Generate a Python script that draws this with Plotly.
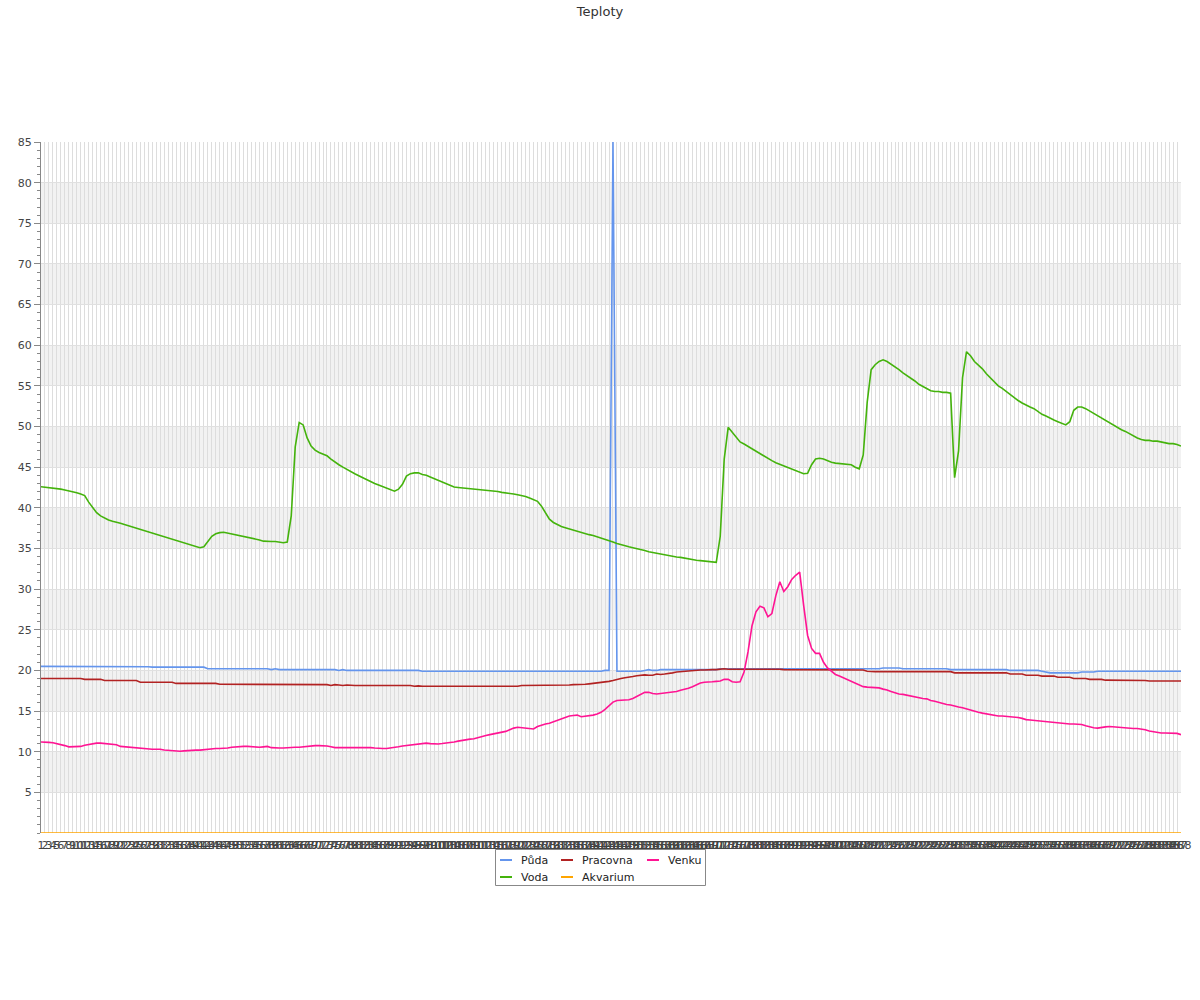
import plotly.graph_objects as go

labels = [str(i) for i in range(1, 289)]

puda = [
20.5,20.5,20.5,20.5,20.5,20.5,20.5,20.5,20.5,20.5,20.5,20.5,
20.5,20.5,20.5,20.5,20.5,20.5,20.5,20.5,20.5,20.5,20.5,20.5,
20.5,20.5,20.5,20.45,20.4,20.4,20.4,20.4,20.4,20.4,20.4,20.4,
20.4,20.4,20.4,20.4,20.4,20.4,20.2,20.2,20.2,20.2,20.2,20.2,
20.2,20.2,20.2,20.2,20.2,20.2,20.2,20.2,20.2,20.2,20.1,20.2,
20.1,20.1,20.1,20.1,20.1,20.1,20.1,20.1,20.1,20.1,20.1,20.1,
20.1,20.1,20.1,20.0,20.1,20.0,20.0,20.0,20.0,20.0,20.0,20.0,
20.0,20.0,20.0,20.0,20.0,20.0,20.0,20.0,20.0,20.0,20.0,20.0,
19.9,19.9,19.9,19.9,19.9,19.9,19.9,19.9,19.9,19.9,19.9,19.9,
19.9,19.9,19.9,19.9,19.9,19.9,19.9,19.9,19.9,19.9,19.9,19.9,
19.9,19.9,19.9,19.9,19.9,19.9,19.9,19.9,19.9,19.9,19.9,19.9,
19.9,19.9,19.9,19.9,19.9,19.9,19.9,19.9,19.9,19.9,20.0,20.0,
85.0,19.9,19.9,19.9,19.9,19.9,19.9,19.9,20.0,20.1,20.0,20.0,
20.1,20.1,20.1,20.1,20.1,20.1,20.1,20.1,20.1,20.1,20.1,20.1,
20.1,20.1,20.1,20.2,20.2,20.2,20.2,20.2,20.2,20.2,20.2,20.2,
20.2,20.2,20.2,20.2,20.2,20.2,20.2,20.2,20.2,20.2,20.2,20.2,
20.2,20.2,20.2,20.2,20.2,20.2,20.2,20.2,20.2,20.2,20.2,20.2,
20.2,20.2,20.2,20.2,20.2,20.2,20.2,20.2,20.3,20.3,20.3,20.3,
20.3,20.2,20.2,20.2,20.2,20.2,20.2,20.2,20.2,20.2,20.2,20.2,
20.2,20.1,20.1,20.1,20.1,20.1,20.1,20.1,20.1,20.1,20.1,20.1,
20.1,20.1,20.1,20.1,20.0,20.0,20.0,20.0,20.0,20.0,20.0,20.0,
19.9,19.8,19.7,19.7,19.7,19.7,19.7,19.7,19.7,19.7,19.8,19.8,
19.8,19.8,19.9,19.9,19.9,19.9,19.9,19.9,19.9,19.9,19.9,19.9,
19.9,19.9,19.9,19.9,19.9,19.9,19.9,19.9,19.9,19.9,19.9,19.9,
]

voda = [
42.6,42.55,42.5,42.45,42.35,42.3,42.2,42.1,42.0,41.85,41.7,41.5,
40.7,40.0,39.4,39.0,38.7,38.5,38.35,38.25,38.1,37.95,37.8,37.7,
37.55,37.4,37.25,37.1,36.95,36.8,36.65,36.5,36.35,36.2,36.05,35.9,
35.75,35.6,35.45,35.3,35.1,35.2,35.9,36.5,36.8,36.95,37.0,36.9,
36.8,36.7,36.6,36.5,36.4,36.3,36.2,36.05,35.9,35.85,35.85,35.85,
35.8,35.7,35.8,39.0,47.5,50.5,50.2,48.6,47.6,47.1,46.8,46.6,
46.4,46.0,45.6,45.3,45.0,44.7,44.45,44.2,43.95,43.7,43.4,43.2,
43.0,42.8,42.6,42.4,42.2,42.05,42.3,42.9,43.9,44.2,44.3,44.3,
44.1,44.0,43.8,43.6,43.4,43.15,42.9,42.7,42.55,42.5,42.45,42.45,
42.4,42.35,42.3,42.25,42.2,42.1,42.05,42.0,41.9,41.85,41.75,41.7,
41.6,41.5,41.4,41.2,41.0,40.8,40.2,39.4,38.6,38.2,37.9,37.7,
37.55,37.4,37.25,37.1,36.95,36.8,36.7,36.6,36.45,36.3,36.1,35.95,
35.8,35.6,35.45,35.35,35.2,35.1,35.0,34.85,34.75,34.6,34.5,34.4,
34.3,34.2,34.15,34.05,33.95,33.9,33.8,33.7,33.6,33.55,33.5,33.45,
33.4,33.35,33.3,36.5,46.0,49.9,49.3,48.6,48.1,47.85,47.55,47.25,
46.95,46.6,46.3,46.05,45.8,45.55,45.35,45.1,44.9,44.7,44.5,44.3,
44.2,44.25,45.3,46.0,46.1,46.0,45.8,45.6,45.5,45.45,45.4,45.35,
45.3,45.0,44.8,46.5,53.0,57.0,57.6,58.0,58.2,58.0,57.7,57.35,
57.0,56.6,56.3,56.0,55.6,55.2,54.9,54.6,54.4,54.3,54.3,54.2,
54.2,54.1,43.7,47.0,56.0,59.2,58.7,58.0,57.6,57.1,56.5,56.0,
55.5,55.0,54.7,54.3,54.0,53.6,53.2,52.9,52.6,52.4,52.2,51.8,
51.5,51.3,51.0,50.8,50.6,50.4,50.2,50.6,52.0,52.4,52.4,52.2,
51.9,51.6,51.3,51.1,50.8,50.5,50.2,49.9,49.6,49.4,49.1,48.9,
48.6,48.4,48.3,48.3,48.2,48.2,48.1,48.0,47.9,47.9,47.8,47.6,
]

pracovna = [
19.0,19.0,19.0,19.0,19.0,19.0,19.0,19.0,19.0,19.0,19.0,18.9,
18.9,18.9,18.9,18.9,18.75,18.75,18.75,18.75,18.75,18.75,18.75,18.75,
18.75,18.55,18.55,18.55,18.55,18.55,18.55,18.55,18.55,18.55,18.4,18.4,
18.4,18.4,18.4,18.4,18.4,18.4,18.4,18.4,18.4,18.3,18.3,18.3,
18.3,18.3,18.3,18.3,18.3,18.3,18.3,18.3,18.3,18.3,18.3,18.3,
18.3,18.3,18.3,18.3,18.3,18.3,18.25,18.25,18.25,18.25,18.25,18.25,
18.25,18.15,18.25,18.2,18.15,18.2,18.15,18.15,18.15,18.15,18.15,18.15,
18.15,18.15,18.15,18.15,18.15,18.15,18.15,18.15,18.15,18.15,18.05,18.1,
18.05,18.05,18.05,18.05,18.05,18.05,18.05,18.05,18.05,18.05,18.05,18.05,
18.05,18.05,18.05,18.05,18.05,18.05,18.05,18.05,18.05,18.05,18.05,18.05,
18.05,18.15,18.15,18.15,18.15,18.15,18.15,18.15,18.15,18.15,18.15,18.15,
18.15,18.2,18.25,18.25,18.25,18.3,18.35,18.4,18.45,18.5,18.55,18.65,
18.75,18.9,19.0,19.1,19.15,19.25,19.35,19.4,19.45,19.4,19.4,19.55,
19.5,19.55,19.6,19.7,19.8,19.85,19.9,19.95,20.0,20.0,20.05,20.05,
20.1,20.1,20.1,20.15,20.2,20.15,20.15,20.15,20.15,20.15,20.15,20.15,
20.15,20.2,20.2,20.15,20.2,20.15,20.15,20.1,20.1,20.1,20.1,20.1,
20.1,20.1,20.1,20.1,20.1,20.1,20.1,20.1,20.1,20.1,20.1,20.1,
20.05,20.05,20.05,20.05,19.9,19.85,19.85,19.85,19.85,19.85,19.85,19.85,
19.85,19.85,19.85,19.85,19.85,19.85,19.85,19.85,19.85,19.85,19.85,19.85,
19.85,19.85,19.7,19.7,19.7,19.7,19.7,19.7,19.7,19.7,19.7,19.7,
19.7,19.7,19.7,19.7,19.55,19.55,19.55,19.55,19.4,19.4,19.4,19.4,
19.3,19.3,19.3,19.3,19.15,19.15,19.15,19.15,19.0,19.0,19.0,19.0,
18.9,18.9,18.9,18.9,18.8,18.8,18.8,18.8,18.8,18.8,18.8,18.8,
18.75,18.75,18.75,18.7,18.7,18.7,18.7,18.7,18.7,18.7,18.7,18.7,
]

akvarium = [
0,0,0,0,0,0,0,0,0,0,0,0, 0,0,0,0,0,0,0,0,0,0,0,0,
0,0,0,0,0,0,0,0,0,0,0,0, 0,0,0,0,0,0,0,0,0,0,0,0,
0,0,0,0,0,0,0,0,0,0,0,0, 0,0,0,0,0,0,0,0,0,0,0,0,
0,0,0,0,0,0,0,0,0,0,0,0, 0,0,0,0,0,0,0,0,0,0,0,0,
0,0,0,0,0,0,0,0,0,0,0,0, 0,0,0,0,0,0,0,0,0,0,0,0,
0,0,0,0,0,0,0,0,0,0,0,0, 0,0,0,0,0,0,0,0,0,0,0,0,
0,0,0,0,0,0,0,0,0,0,0,0, 0,0,0,0,0,0,0,0,0,0,0,0,
0,0,0,0,0,0,0,0,0,0,0,0, 0,0,0,0,0,0,0,0,0,0,0,0,
0,0,0,0,0,0,0,0,0,0,0,0, 0,0,0,0,0,0,0,0,0,0,0,0,
0,0,0,0,0,0,0,0,0,0,0,0, 0,0,0,0,0,0,0,0,0,0,0,0,
0,0,0,0,0,0,0,0,0,0,0,0, 0,0,0,0,0,0,0,0,0,0,0,0,
0,0,0,0,0,0,0,0,0,0,0,0, 0,0,0,0,0,0,0,0,0,0,0,0,
]

venku = [
11.2,11.2,11.15,11.1,11.0,10.9,10.75,10.6,10.6,10.6,10.65,10.8,
10.9,11.0,11.05,11.05,11.0,10.9,10.9,10.85,10.65,10.6,10.55,10.5,
10.45,10.4,10.4,10.3,10.3,10.3,10.3,10.2,10.15,10.1,10.05,10.05,
10.1,10.15,10.2,10.2,10.2,10.25,10.35,10.4,10.4,10.4,10.4,10.45,
10.55,10.6,10.65,10.65,10.65,10.6,10.55,10.55,10.6,10.65,10.5,10.45,
10.45,10.45,10.5,10.55,10.55,10.55,10.6,10.7,10.75,10.75,10.75,10.75,
10.7,10.6,10.5,10.5,10.5,10.5,10.5,10.5,10.55,10.55,10.5,10.5,
10.45,10.4,10.4,10.4,10.45,10.5,10.6,10.7,10.75,10.8,10.85,10.9,
11.0,11.05,11.0,10.95,10.95,11.0,11.05,11.1,11.2,11.3,11.4,11.5,
11.55,11.6,11.75,11.85,12.0,12.1,12.2,12.25,12.4,12.5,12.7,12.9,
13.0,12.95,12.9,12.85,12.8,13.1,13.3,13.4,13.5,13.7,13.9,14.1,
14.3,14.4,14.45,14.5,14.3,14.35,14.45,14.5,14.65,14.85,15.2,15.7,
16.1,16.3,16.35,16.35,16.4,16.55,16.8,17.15,17.3,17.3,17.15,17.1,
17.15,17.2,17.25,17.3,17.4,17.55,17.65,17.8,18.0,18.2,18.45,18.55,
18.55,18.6,18.65,18.7,18.9,18.9,18.6,18.55,18.6,19.8,22.3,25.5,
27.2,27.9,27.7,26.6,27.0,29.2,30.9,29.7,30.3,31.2,31.7,32.1,
28.0,24.3,22.7,22.1,22.1,21.0,20.3,19.9,19.5,19.3,19.1,18.9,
18.6,18.4,18.2,18.0,17.95,17.9,17.9,17.85,17.7,17.6,17.4,17.2,
17.1,17.05,16.95,16.85,16.75,16.6,16.55,16.5,16.3,16.2,16.05,15.95,
15.8,15.75,15.6,15.5,15.4,15.25,15.1,15.0,14.85,14.75,14.65,14.55,
14.5,14.4,14.4,14.35,14.3,14.3,14.2,14.1,13.95,13.9,13.85,13.8,
13.7,13.65,13.6,13.55,13.5,13.45,13.4,13.4,13.4,13.4,13.35,13.2,
13.05,12.95,12.9,13.0,13.05,13.1,13.05,13.0,12.95,12.9,12.85,12.85,
12.85,12.8,12.7,12.55,12.45,12.35,12.3,12.3,12.3,12.3,12.25,12.1,
]

series = [
    ("Půda", puda, "#6495ED"),
    ("Voda", voda, "#44b30c"),
    ("Pracovna", pracovna, "#b22222"),
    ("Akvarium", akvarium, "#FFA500"),
    ("Venku", venku, "#FF1493"),
]

fig = go.Figure()
for name, vals, color in series:
    fig.add_trace(go.Scatter(x=labels, y=vals, mode="lines", name=name,
                             line=dict(color=color, width=1.6), showlegend=False,
                             cliponaxis=False if name == "Akvarium" else True))

W, H = 1200, 1000
# plot area in page pixels
L, R, T, B = 41, 1181, 142, 833

def px(x):
    return (x - L) / (R - L)

def py(y):
    return (B - y) / (B - T)

shapes = []
for lo in range(5, 85, 10):
    shapes.append(dict(type="rect", xref="paper", yref="y", x0=0, x1=1, y0=lo, y1=lo + 5,
                       fillcolor="#f2f2f2", line=dict(width=0), layer="below"))

# custom legend (page pixel positions)
shapes.append(dict(type="rect", xref="paper", yref="paper", x0=px(495.5), x1=px(705.5),
                   y0=py(885.5), y1=py(849.5), fillcolor="white",
                   line=dict(color="#888888", width=1), layer="above"))
annotations = []
legend_items = [
    ("Půda", "#6495ED", 500, 860),
    ("Pracovna", "#b22222", 561, 860),
    ("Venku", "#FF1493", 647, 860),
    ("Voda", "#44b30c", 500, 877),
    ("Akvarium", "#FFA500", 561, 877),
]
for name, color, x0, y0 in legend_items:
    shapes.append(dict(type="line", xref="paper", yref="paper", x0=px(x0), x1=px(x0 + 12),
                       y0=py(y0), y1=py(y0), line=dict(color=color, width=2), layer="above"))
    annotations.append(dict(xref="paper", yref="paper", x=px(x0 + 19), y=py(y0), text=name,
                            showarrow=False, xanchor="left", yanchor="middle",
                            font=dict(family="DejaVu Sans", size=11, color="#222222")))

fig.update_layout(
    width=W, height=H,
    margin=dict(l=L, r=W - R, t=T, b=H - B, autoexpand=False),
    paper_bgcolor="white", plot_bgcolor="white",
    font=dict(family="DejaVu Sans", size=11, color="#444444"),
    title=dict(text="Teploty", x=0.5, xref="container", xanchor="center",
               y=1 - 11 / H, yref="container", yanchor="middle",
               font=dict(family="DejaVu Sans", size=13, color="#333333")),
    showlegend=False,
    shapes=shapes,
    annotations=annotations,
    xaxis=dict(type="category", range=[0, len(labels) - 1], tickmode="array",
               tickvals=labels, ticktext=labels, tickangle=0, showgrid=True,
               gridcolor="#dddddd", gridwidth=1, ticks="", showline=False, zeroline=False,
               tickfont=dict(size=11, color="#444444"), ticklabelstandoff=4, automargin=False),
    yaxis=dict(range=[0, 85], tickmode="array", tickvals=list(range(5, 86, 5)),
               showgrid=True, gridcolor="#e0e0e0", gridwidth=1, ticks="outside", ticklen=6,
               tickcolor="#888888", showline=True, linecolor="#888888", linewidth=1,
               zeroline=False, automargin=False, tickfont=dict(size=11, color="#444444"),
               minor=dict(tickmode="linear", tick0=0, dtick=1, ticks="outside", ticklen=3,
                          tickcolor="#888888", showgrid=False)),
)

fig.write_html("out.html", config={"displayModeBar": False},
               post_script="document.body.style.margin='0px';document.body.style.overflow='hidden';")
